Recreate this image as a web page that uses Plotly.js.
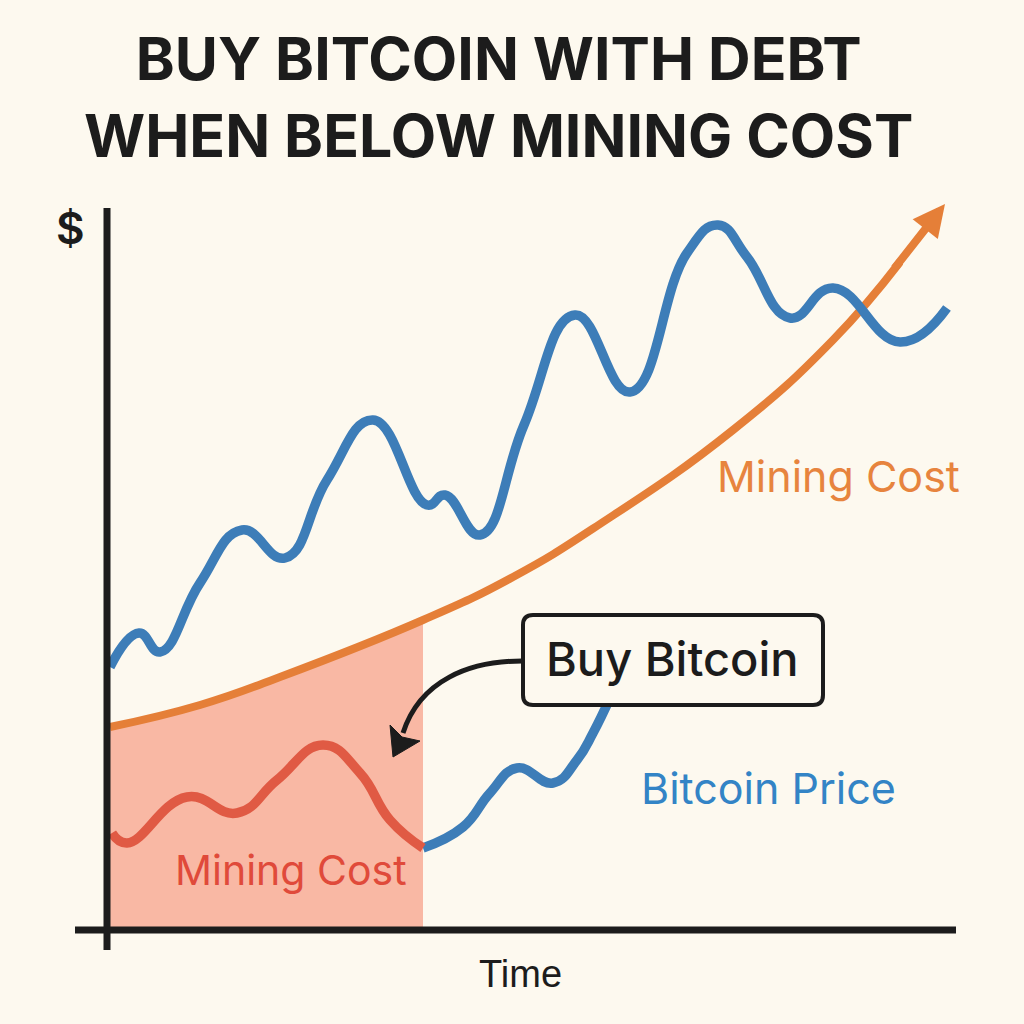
<!DOCTYPE html>
<html>
<head>
<meta charset="utf-8">
<script src="https://cdn.plot.ly/plotly-3.0.1.min.js"></script>
<style>
  html, body { margin: 0; padding: 0; background: #fdf9ef; }
  #chart { width: 1024px; height: 1024px; }
</style>
</head>
<body>
<div id="chart"></div>
<script>
// ---- Data (time units, price units) ----
const timeUpper  = [3, 32, 53, 93, 135, 178, 220, 266, 320, 338, 373, 417, 468, 523, 580, 611, 640, 683, 726, 793, 840];
const priceUpper = [263, 297, 278, 347, 400, 372, 450, 510, 425, 435, 395, 505, 615, 538, 677, 705, 673, 612, 642, 588, 622];

const timeBelow  = [5, 20, 80, 130, 170, 216, 253, 283, 316];
const priceBelow = [97, 87, 133, 117, 150, 185, 157, 110, 82];

const timeRecover  = [316, 356, 383, 410, 446, 470, 486, 503];
const priceRecover = [82, 103, 137, 162, 147, 170, 197, 232];

const timeCost   = [3, 93, 173, 316, 406, 493, 626, 726, 793];
const miningCost = [203, 225, 253, 310, 353, 406, 500, 590, 668];
const costArrowTip = [838, 726];

const buyZoneEnd = 316;

const titleLines = ["BUY BITCOIN WITH DEBT", "WHEN BELOW MINING COST"];

// ---- Colours ----
const BG = "#fdf9ef";
const INK = "#1c1c1c";
const BLUE = "#3d7db8";
const ORANGE = "#e57f38";
const RED = "#e05a44";
const SHADE = "#f9b8a4";

const shadeX = timeCost.filter(t => t <= buyZoneEnd);
const shadeY = miningCost.slice(0, shadeX.length);

// arrow shaft starts a little before the last cost point so it overlaps the curve
const nC = timeCost.length;
const arrowTail = [
  timeCost[nC - 2] + 0.9 * (timeCost[nC - 1] - timeCost[nC - 2]),
  miningCost[nC - 2] + 0.9 * (miningCost[nC - 1] - miningCost[nC - 2])
];

const SM = 1.3;
const traces = [
  { x: shadeX, y: shadeY, type: "scatter", mode: "lines", fill: "tozeroy",
    fillcolor: SHADE, line: { width: 0, shape: "spline", smoothing: SM }, hoverinfo: "skip" },
  { x: timeCost, y: miningCost, type: "scatter", mode: "lines",
    line: { color: ORANGE, width: 8, shape: "spline", smoothing: SM } },
  { x: timeUpper, y: priceUpper, type: "scatter", mode: "lines",
    line: { color: BLUE, width: 9.5, shape: "spline", smoothing: SM } },
  { x: timeRecover, y: priceRecover, type: "scatter", mode: "lines",
    line: { color: BLUE, width: 9.5, shape: "spline", smoothing: SM } },
  { x: timeBelow, y: priceBelow, type: "scatter", mode: "lines",
    line: { color: RED, width: 9.5, shape: "spline", smoothing: SM } }
];

const layout = {
  width: 1024, height: 1024,
  margin: { l: 0, r: 0, t: 0, b: 0 },
  paper_bgcolor: BG, plot_bgcolor: BG,
  showlegend: false,
  title: {
    text: titleLines.join("<br>"),
    font: { family: "Inter, 'DejaVu Sans', sans-serif", size: 59, color: INK, weight: 700 },
    x: 0.487, xref: "container", xanchor: "center",
    y: 0.922, yref: "container", yanchor: "middle"
  },
  xaxis: { range: [-107, 917], visible: false, fixedrange: true },
  yaxis: { range: [-94, 930], visible: false, fixedrange: true },
  shapes: [
    { type: "line", xref: "x", yref: "y", x0: 0, x1: 0, y0: -20, y1: 722,
      line: { color: INK, width: 7 }, layer: "above" },
    { type: "line", xref: "x", yref: "y", x0: -32, x1: 849, y0: 0, y1: 0,
      line: { color: INK, width: 7 }, layer: "above" },
    // callout box
    { type: "path", xref: "x", yref: "y", layer: "above",
      path: "M 426,225 L 706,225 Q 716,225 716,235 L 716,305 Q 716,315 706,315 L 426,315 Q 416,315 416,305 L 416,235 Q 416,225 426,225 Z",
      fillcolor: BG, line: { color: INK, width: 4 } },
    // curved pointer
    { type: "path", xref: "x", yref: "y", layer: "above",
      path: "M 415,269 C 363,269 313,250 296,197",
      line: { color: INK, width: 5 } },
    { type: "path", xref: "x", yref: "y", layer: "above",
      path: "M 286,173 L 283,205 L 295,193 L 313,189 Z",
      fillcolor: INK, line: { color: INK, width: 1 } }
  ],
  annotations: [
    { x: costArrowTip[0], y: costArrowTip[1], ax: arrowTail[0], ay: arrowTail[1],
      xref: "x", yref: "y", axref: "x", ayref: "y", text: "", showarrow: true,
      arrowhead: 2, arrowsize: 0.8, arrowwidth: 8, arrowcolor: ORANGE, standoff: 0 },
    { x: 565, y: 272, xref: "x", yref: "y", text: "Buy Bitcoin", showarrow: false,
      font: { family: "Inter, sans-serif", size: 47, color: INK, weight: 500 } },
    { x: 731, y: 454, xref: "x", yref: "y", text: "Mining Cost", showarrow: false,
      font: { family: "Inter, sans-serif", size: 43, color: "#e7843e" } },
    { x: 661, y: 142, xref: "x", yref: "y", text: "Bitcoin Price", showarrow: false,
      font: { family: "Inter, sans-serif", size: 43, color: "#3384c6" } },
    { x: 184, y: 60, xref: "x", yref: "y", text: "Mining Cost", showarrow: false,
      font: { family: "Inter, sans-serif", size: 41, color: "#e04a3a" } },
    { x: -37, y: 702, xref: "x", yref: "y", text: "$", showarrow: false,
      font: { family: "Inter, sans-serif", size: 44, color: INK, weight: 600 } },
    { x: 413, y: -44, xref: "x", yref: "y", text: "Time", showarrow: false,
      font: { family: "'Liberation Sans', Arial, sans-serif", size: 38, color: INK } }
  ]
};

Plotly.newPlot("chart", traces, layout, { staticPlot: true, displayModeBar: false });
</script>
</body>
</html>
